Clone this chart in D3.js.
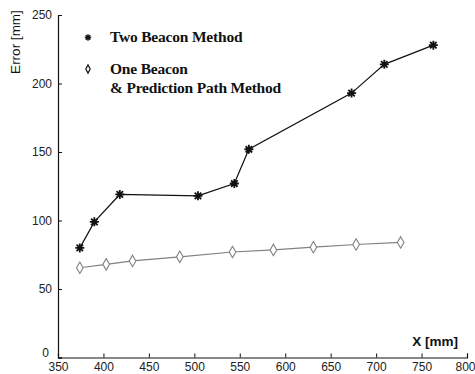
<!DOCTYPE html>
<html>
<head>
<meta charset="utf-8">
<script src="https://cdn.jsdelivr.net/npm/d3@7"></script>
<style>
  html, body { margin: 0; padding: 0; background: #fff; }
  svg { display: block; }
</style>
</head>
<body>
<svg id="chart" width="475" height="374"></svg>
<script>
(function() {

  // Two Beacon Method
  const twoX = [374, 390, 418, 504, 544, 560, 673, 709, 763];
  const twoY = [80, 99, 119, 118, 127, 152, 193, 214, 228];

  // One Beacon & Prediction Path Method
  const oneX = [374, 403, 432, 484, 542, 587, 631, 678, 727];
  const oneY = [65.5, 68, 70.5, 73.5, 77, 78.5, 80.5, 82.5, 84];

  const xTicks = [350, 400, 450, 500, 550, 600, 650, 700, 750, 800];
  const yTicks = [0, 50, 100, 150, 200, 250];

  const legendLabels = ["Two Beacon Method", "One Beacon", "& Prediction Path Method"];

  const INK = "#111";
  const GRAY = "#808080";
  const W = 475, H = 374;
  const margin = { top: 15, right: 8, bottom: 16.5, left: 58 };

  const svg = d3.select("#chart");

  const x = d3.scaleLinear().domain([350, 800]).range([margin.left, W - margin.right]);
  const y = d3.scaleLinear().domain([0, 250]).range([H - margin.bottom, margin.top]);

  const tickFont = "'Liberation Sans Narrow', 'Arial Narrow', sans-serif";

  // axes (inward ticks, MATLAB style)
  const xAxis = svg.append("g")
    .attr("transform", `translate(0,${y(0)})`)
    .call(d3.axisBottom(x).tickValues(xTicks).tickSize(-4).tickPadding(6).tickFormat(d3.format("d")));
  const yAxis = svg.append("g")
    .attr("transform", `translate(${x(350)},0)`)
    .call(d3.axisLeft(y).tickValues(yTicks).tickSize(-4).tickPadding(6).tickFormat(d3.format("d")));

  [xAxis, yAxis].forEach(g => {
    g.select(".domain").attr("stroke", INK).attr("stroke-width", 1.2);
    g.selectAll(".tick line").attr("stroke", INK).attr("stroke-width", 1);
    g.selectAll(".tick text")
      .attr("fill", "#222")
      .attr("font-family", tickFont)
      .attr("font-size", 12);
  });
  xAxis.selectAll(".tick text").attr("dy", "0.6em");
  // the zero label sits a little above the corner, as in the original
  yAxis.selectAll(".tick text").filter(d => d === 0).attr("dy", "-0.05em").attr("x", -9);
  // the last label runs off the right edge in the original; keep it inside
  xAxis.selectAll(".tick text").filter(d => d === 800).attr("text-anchor", "end").attr("x", 8);

  // axis titles
  svg.append("text")
    .attr("transform", `translate(19.5,42) rotate(-90)`)
    .attr("text-anchor", "middle")
    .attr("font-family", "'Liberation Sans', Arial, sans-serif")
    .attr("font-size", 13.5)
    .attr("fill", INK)
    .text("Error [mm]");

  svg.append("text")
    .attr("x", 458).attr("y", 346)
    .attr("text-anchor", "end")
    .attr("font-family", "'Liberation Sans', Arial, sans-serif")
    .attr("font-weight", "bold")
    .attr("font-size", 13.5)
    .attr("fill", INK)
    .text("X [mm]");

  const line = d3.line().x(d => x(d[0])).y(d => y(d[1]));

  const oneData = oneX.map((v, i) => [v, oneY[i]]);
  const twoData = twoX.map((v, i) => [v, twoY[i]]);

  // one beacon: gray line, open diamonds
  svg.append("path")
    .datum(oneData)
    .attr("d", line)
    .attr("fill", "none")
    .attr("stroke", GRAY)
    .attr("stroke-width", 1.2);

  const diamond = d3.symbol().type(d3.symbolDiamond).size(38);
  svg.selectAll(".one-mark")
    .data(oneData)
    .join("path")
    .attr("class", "one-mark")
    .attr("transform", d => `translate(${x(d[0])},${y(d[1])})`)
    .attr("d", diamond)
    .attr("fill", "#fff")
    .attr("stroke", GRAY)
    .attr("stroke-width", 1.1);

  // two beacon: black line, star marks
  svg.append("path")
    .datum(twoData)
    .attr("d", line)
    .attr("fill", "none")
    .attr("stroke", INK)
    .attr("stroke-width", 1.2);

  const star = r => {
    const d = r * 0.72;
    return `M${-r},0L${r},0M0,${-r}L0,${r}M${-d},${-d}L${d},${d}M${-d},${d}L${d},${-d}`;
  };
  svg.selectAll(".two-mark")
    .data(twoData)
    .join("path")
    .attr("class", "two-mark")
    .attr("transform", d => `translate(${x(d[0])},${y(d[1])})`)
    .attr("d", star(4.5))
    .attr("stroke", INK)
    .attr("stroke-width", 1.8);

  // legend
  const legend = svg.append("g");
  legend.append("path")
    .attr("transform", "translate(88,37.5)")
    .attr("d", star(3.2))
    .attr("stroke", INK)
    .attr("stroke-width", 1.4);
  legend.append("path")
    .attr("transform", "translate(88,69) scale(0.9,1)")
    .attr("d", d3.symbol().type(d3.symbolDiamond).size(20))
    .attr("fill", "#fff")
    .attr("stroke", INK)
    .attr("stroke-width", 1.3);

  const legendY = [41.5, 74, 92.5];
  legend.selectAll("text")
    .data(legendLabels)
    .join("text")
    .attr("x", 110)
    .attr("y", (d, i) => legendY[i])
    .attr("font-family", "'Liberation Serif', 'Times New Roman', serif")
    .attr("font-weight", "bold")
    .attr("font-size", 15.5)
    .attr("letter-spacing", -0.2)
    .attr("fill", INK)
    .text(d => d);

})();
</script>
</body>
</html>
